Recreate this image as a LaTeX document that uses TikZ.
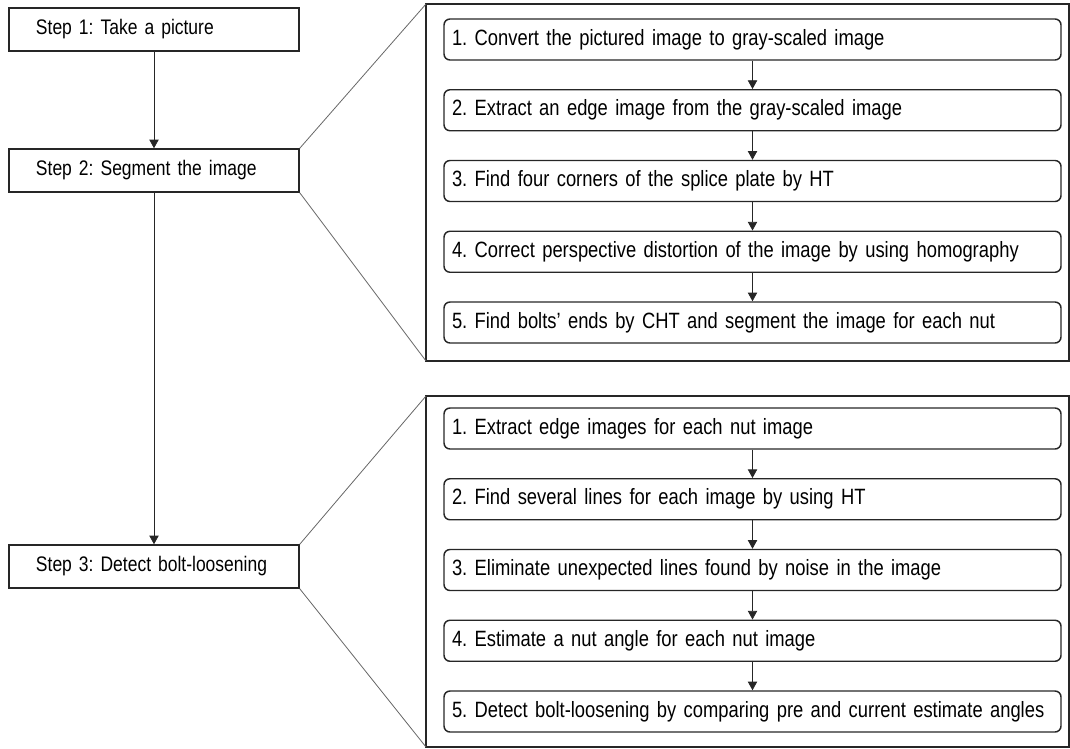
\documentclass[tikz,border=0pt]{standalone}
\usepackage{fontspec}
\setmainfont{Liberation Sans}[FakeStretch=0.83, WordSpace=0.8]
\usetikzlibrary{arrows.meta}
\frenchspacing
\newcommand{\pxu}{0.75pt}
\tikzset{
  stepbox/.style={draw=black!85, line width=1.1pt, minimum width=217.5pt, minimum height=32.25pt,
    inner xsep=20.25pt, text width=177pt, align=left, font=\fontsize{15.8}{19}\selectfont},
  subbox/.style={draw=black!85, line width=1.1pt, rounded corners=4.5pt, minimum width=462.75pt,
    minimum height=30.75pt, inner xsep=6pt, text width=450.75pt, align=left, font=\fontsize{16.6}{19.8}\selectfont},
  framebox/.style={draw=black!85, line width=1.5pt, minimum width=482.25pt, inner sep=0pt, outer sep=0pt},
  flow/.style={-{Triangle[length=6.5pt,width=7pt]}, line width=0.6pt, black!85},
  zoomline/.style={line width=0.6pt, black!60}
}
\begin{document}
\begin{tikzpicture}[x=\pxu, y=-\pxu]
\useasboundingbox (0,0) rectangle (1070,749);

% main steps
\node[stepbox] (s1) at (154,29.5) {Step 1: Take a picture};
\node[stepbox] (s2) at (154,170.5) {Step 2: Segment the image};
\node[stepbox] (s3) at (154,566.5) {Step 3: Detect bolt-loosening};
\draw[flow] (s1) -- (s2);
\draw[flow] (s2) -- (s3);

% detail frames
\node[framebox, minimum height=267.75pt] (f1) at (747.5,182.5) {};
\node[framebox, minimum height=263.25pt] (f2) at (747.5,571.5) {};
\draw[zoomline] (s2.north east) -- (f1.north west);
\draw[zoomline] (s2.south east) -- (f1.south west);
\draw[zoomline] (s3.north east) -- (f2.north west);
\draw[zoomline] (s3.south east) -- (f2.south west);

% segmentation substeps
\foreach \txt [count=\i] in {{1. Convert the pictured image to gray-scaled image},
    {2. Extract an edge image from the gray-scaled image},
    {3. Find four corners of the splice plate by HT},
    {4. Correct perspective distortion of the image by using homography},
    {5. Find bolts’ ends by CHT and segment the image for each nut}}
  \node[subbox] (seg\i) at (752.5,{39.5+70.75*(\i-1)}) {\txt};

% detection substeps
\foreach \txt [count=\i] in {{1. Extract edge images for each nut image},
    {2. Find several lines for each image by using HT},
    {3. Eliminate unexpected lines found by noise in the image},
    {4. Estimate a nut angle for each nut image},
    {5. Detect bolt-loosening by comparing pre and current estimate angles}}
  \node[subbox] (det\i) at (752.5,{428.5+70.75*(\i-1)}) {\txt};

\foreach \i [remember=\i as \last (initially 1)] in {2,...,5} {
  \draw[flow] (seg\last) -- (seg\i);
  \draw[flow] (det\last) -- (det\i);
}

\end{tikzpicture}
\end{document}
